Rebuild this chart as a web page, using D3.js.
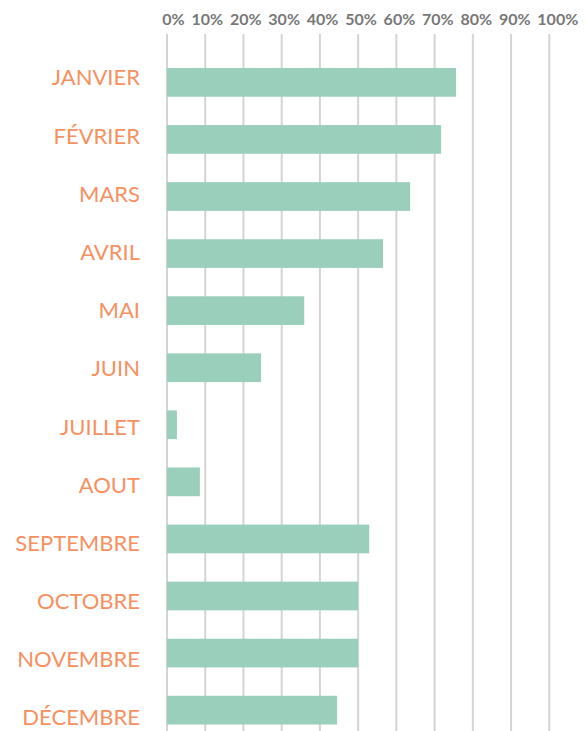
<!DOCTYPE html>
<html><head><meta charset="utf-8">
<script src="https://cdn.jsdelivr.net/npm/d3@7"></script>
<style>body{margin:0;background:#fff}svg{display:block}</style>
</head><body>
<svg id="c" width="587" height="731"></svg>
<script>
const months = ["JANVIER","FÉVRIER","MARS","AVRIL","MAI","JUIN","JUILLET","AOUT","SEPTEMBRE","OCTOBRE","NOVEMBRE","DÉCEMBRE"];
const values = [75.6, 71.7, 63.6, 56.5, 35.9, 24.6, 2.6, 8.6, 52.9, 50.0, 50.0, 44.5];
const ticks = [0,10,20,30,40,50,60,70,80,90,100];
const tickLabels = ticks.map(t => t + "%");

const svg = d3.select("#c");
const x = d3.scaleLinear().domain([0,100]).range([167, 549.3]);
const y = d3.scaleBand().domain(months).range([68, 724.5]).paddingInner(0.497).paddingOuter(0);
const yl = d3.scalePoint().domain(months).range([77.5, 717.5]);

// grid
svg.append("g").selectAll("line").data(ticks).join("line")
  .attr("x1", d => x(d)).attr("x2", d => x(d))
  .attr("y1", 34).attr("y2", 731)
  .attr("stroke", "#d4d4d4").attr("stroke-width", 2);

// bars
svg.append("g").selectAll("rect").data(values).join("rect")
  .attr("x", x(0)).attr("y", (d,i) => y(months[i]))
  .attr("width", d => x(d) - x(0)).attr("height", y.bandwidth())
  .attr("fill", "#9acfbc");

// month labels
svg.append("g").selectAll("text").data(months).join("text")
  .attr("x", 140).attr("y", d => yl(d)).attr("dy", "0.36em")
  .attr("text-anchor", "end")
  .style("font-family", "Lato, sans-serif").style("font-size", "22px")
  .attr("fill", "#f7905f").text(d => d);

// tick labels laid out as a flowing line
const tg = svg.append("g");
const tt = tg.selectAll("text").data(tickLabels).join("text")
  .attr("y", 25)
  .style("font-family", "Lato, sans-serif").style("font-size", "16px").style("font-weight", "bold")
  .attr("fill", "#777").text(d => d);
const widths = [];
tt.each(function(){ widths.push(this.getComputedTextLength()); });
const startX = 162.3, endX = 578.3;
const total = d3.sum(widths);
const gap = (endX - startX - total) / (tickLabels.length - 1);
let cx = startX;
tt.attr("x", (d,i) => { const v = cx; cx += widths[i] + gap; return v; });
</script>
</body></html>
